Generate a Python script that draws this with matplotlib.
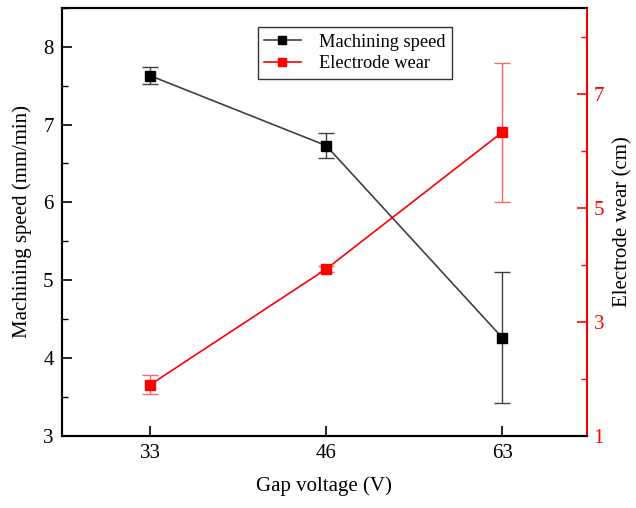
import matplotlib.pyplot as plt
from matplotlib.ticker import MultipleLocator, FixedLocator
from matplotlib.lines import Line2D

plt.rcParams['font.family'] = ['Liberation Serif', 'DejaVu Serif']

voltages = ["33", "46", "63"]
speed = [7.63, 6.73, 4.26]
speed_err = [0.11, 0.16, 0.84]
wear = [1.89, 3.92, 6.32]
wear_err = [0.17, 0.05, 1.22]

x = [1, 2, 3]

fig = plt.figure(figsize=(6.36, 5.08), dpi=100)
ax = fig.add_axes([0.0975, 0.1427, 0.825, 0.8415])
ax2 = ax.twinx()

ax.errorbar(x, speed, yerr=speed_err, color="#404040", marker='s', markersize=7,
            markerfacecolor='black', markeredgecolor='black', linewidth=1.2,
            elinewidth=1.0, capsize=6, capthick=1.0)
ax2.errorbar(x, wear, yerr=wear_err, color="red", marker='s', markersize=7,
             linewidth=1.2, elinewidth=1.0, ecolor=(1, 0.4, 0.4), capsize=6,
             capthick=1.0)

ax.set_xlim(0.5, 3.48)
ax.set_xticks(x)
ax.set_xticklabels(voltages)
ax.set_ylim(3, 8.5)
ax.yaxis.set_major_locator(MultipleLocator(1))
ax.yaxis.set_minor_locator(MultipleLocator(0.5))
ax2.set_ylim(1, 8.5)
ax2.yaxis.set_major_locator(FixedLocator([1, 3, 5, 7]))
ax2.yaxis.set_minor_locator(FixedLocator([2, 4, 6, 8]))

ax.tick_params(axis='both', which='major', direction='in', length=7, width=1.2,
               labelsize=15, pad=6)
ax.tick_params(axis='y', which='minor', direction='in', length=4, width=1.0)
ax.tick_params(axis='x', top=False)
ax2.tick_params(axis='y', which='major', direction='in', length=7, width=1.2,
                colors='red', labelsize=15, pad=5)
ax2.tick_params(axis='y', which='minor', direction='in', length=4, width=1.0, colors='red')

for s in ax.spines.values():
    s.set_linewidth(1.5)
for s in ax2.spines.values():
    s.set_linewidth(1.5)
ax2.spines['right'].set_color('red')
ax.spines['right'].set_visible(False)

ax.set_xlabel("Gap voltage (V)", fontsize=15, labelpad=10)
ax.set_ylabel("Machining speed (mm/min)", fontsize=15, labelpad=8)
ax2.set_ylabel("Electrode wear (cm)", fontsize=15, rotation=90, va='center')
ax2.yaxis.set_label_coords(1.068, 0.5)

h1 = Line2D([], [], color="#404040", marker='s', markersize=6,
            markerfacecolor='black', markeredgecolor='black', linewidth=1.2)
h2 = Line2D([], [], color="red", marker='s', markersize=6, linewidth=1.2)
leg = ax.legend([h1, h2], ["Machining speed", "Electrode wear"], loc='upper left',
                bbox_to_anchor=(0.373, 0.955), borderaxespad=0, fontsize=13.2,
                frameon=True, fancybox=False, edgecolor='black', handlelength=2.0,
                borderpad=0.35, labelspacing=0.25, handletextpad=1.0)
leg.get_frame().set_linewidth(1.0)

fig.savefig("out.png", dpi=100)
